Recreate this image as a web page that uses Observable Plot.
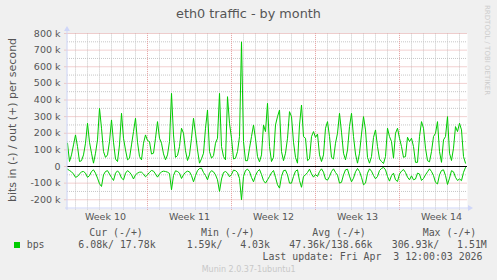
<!DOCTYPE html>
<html><head><meta charset="utf-8">
<script src="https://cdn.jsdelivr.net/npm/d3@7"></script>
<script src="https://cdn.jsdelivr.net/npm/@observablehq/plot@0.6"></script>
<style>
html,body{margin:0;padding:0;background:#f0f0f0;}
#wrap{position:relative;width:497px;height:280px;background:#f0f0f0;overflow:hidden;}
#wrap svg{position:absolute;left:0;top:0;}
</style></head><body><div id="wrap"></div>
<script>
// outbound bits/s (k), 4-hour samples from Mar 1 08:00 UTC
const outK = [140,30,70,130,190,120,30,35,70,140,
260,146,80,20,80,160,350,230,90,55,
70,150,280,146,45,30,130,320,170,100,
40,50,130,210,290,146,60,40,140,190,
156,150,75,80,170,270,170,140,76,40,
70,150,440,190,55,66,120,230,200,95,
36,70,170,290,200,100,20,46,80,230,
340,90,50,65,140,170,440,120,60,40,
420,260,170,45,50,90,180,750,150,35,
35,110,180,250,166,60,28,70,250,210,
380,120,30,56,250,300,340,90,35,80,
170,330,300,146,55,20,250,370,180,170,
35,46,180,210,175,195,70,30,70,230,
270,180,55,45,140,200,320,206,80,40,
100,240,320,180,75,20,80,195,300,220,
55,20,60,175,220,120,45,30,18,60,
230,180,150,50,200,230,170,120,55,60,
176,150,170,120,25,25,180,270,230,110,
35,28,90,180,200,270,90,25,160,180,
300,80,36,110,240,210,260,220,60,20];
// inbound bits/s (k), drawn below zero
const inK = [16,24,32,45,65,60,45,32,30,40,
65,55,30,20,40,70,104,120,50,30,
25,45,66,84,40,26,40,70,80,40,
25,34,50,75,50,40,34,34,45,62,
50,35,24,28,45,64,45,32,28,30,
34,42,140,54,26,30,40,72,50,35,
28,32,55,92,55,25,12,10,36,54,
80,40,25,32,50,80,150,75,36,30,
40,62,48,22,25,36,72,200,60,24,
16,30,66,92,55,30,18,48,85,100,
80,60,38,24,65,110,130,60,25,22,
50,100,100,60,28,20,85,125,60,50,
36,16,44,64,48,60,30,14,34,76,
82,60,30,14,36,52,100,95,50,20,
16,58,92,70,32,12,30,65,110,100,
40,14,28,54,74,60,24,12,5,20,
60,88,55,40,80,90,45,28,18,36,
64,80,56,80,75,40,45,84,72,50,
32,14,30,55,95,105,50,24,20,55,
108,70,25,32,65,84,75,85,35,6];
const startUTC = Date.UTC(2026,2,1,8);
const endUTC = Date.UTC(2026,3,3,16);
const stepMs = 4*3600*1000;
const weekLabels = ["Week 10","Week 11","Week 12","Week 13","Week 14"];
const weekMids = [Date.UTC(2026,2,4,12),Date.UTC(2026,2,11,12),Date.UTC(2026,2,18,12),Date.UTC(2026,2,25,12),Date.UTC(2026,3,1,12)];
const yTicks = [-200,-100,0,100,200,300,400,500,600,700,800];
const titleText = "eth0 traffic - by month";
const yLabel = "bits in (-) / out (+) per second";
const watermark = "RRDTOOL / TOBI OETIKER";
const seriesName = "bps";
const legendHeaders = ["Cur (-/+)","Min (-/+)","Avg (-/+)","Max (-/+)"];
const legendValues = ["6.08k/ 17.78k","1.59k/   4.03k","47.36k/138.66k","306.93k/   1.51M"];
const lastUpdate = "Last update: Fri Apr  3 12:00:03 2026";
const credit = "Munin 2.0.37-1ubuntu1";

const data = outK.map((v,i)=>({t:new Date(startUTC+i*stepMs), out:v, inn:-inK[i]}));
const days = d3.utcDay.range(new Date(Date.UTC(2026,2,2)), new Date(Date.UTC(2026,3,4)));
const minorDays = days.filter(d=>d.getUTCDay()!==0);
const sundays = days.filter(d=>d.getUTCDay()===0);
const minorY = d3.range(-150, 801, 50).filter(v=>v%100!==0);
const GRID="#c6c6c6", MGRID="#e4a0a0", TXT="#555";

const chart = Plot.plot({
  width:497, height:280,
  marginLeft:67, marginRight:30, marginTop:33, marginBottom:72,
  style:{background:"transparent", fontFamily:"DejaVu Sans", fontSize:"9.5px", color:TXT, overflow:"visible"},
  x:{type:"utc", domain:[new Date(startUTC), new Date(endUTC)], label:null},
  y:{domain:[-252.6, 800], label:null},
  marks:[
    Plot.frame({fill:"white", stroke:null}),
    Plot.ruleY(minorY,{stroke:GRID, strokeDasharray:"1,1"}),
    Plot.ruleX(minorDays,{stroke:GRID, strokeDasharray:"1,1", y1:-262, y2:800}),
    Plot.ruleY(yTicks,{stroke:MGRID, strokeDasharray:"1,1", x1:new Date(startUTC-5*3600e3), x2:new Date(endUTC)}),
    Plot.ruleX(sundays,{stroke:MGRID, strokeDasharray:"1,1", y1:-264, y2:800}),
    Plot.ruleY([0],{stroke:"black", strokeWidth:1.2}),
    Plot.line(data,{x:"t", y:"out", stroke:"#00cc00", strokeWidth:1}),
    Plot.line(data,{x:"t", y:"inn", stroke:"#00cc00", strokeWidth:1}),
    Plot.axisY({ticks:yTicks, tickFormat:d=>d===0?"0":d+" k", tickSize:0, tickPadding:7, fontSize:"9.5px", label:null}),
    Plot.axisX({ticks:weekMids.map(d=>new Date(d)), tickFormat:d=>weekLabels[weekMids.indexOf(+d)], tickSize:0, tickPadding:5, fontSize:"9.5px", label:null})
  ]
});
document.getElementById("wrap").appendChild(chart);

const sx = chart.scale("x"), sy = chart.scale("y");
const L = sx.apply(new Date(startUTC)), R = sx.apply(new Date(endUTC));
const B = sy.apply(-252.6), T = sy.apply(800);

const ov = d3.select("#wrap").append("svg").attr("width",497).attr("height",280)
  .style("font-family","DejaVu Sans");
// axes + arrows
ov.append("line").attr("x1",L).attr("x2",L).attr("y1",B+2).attr("y2",T-4).attr("stroke","#CFD6F8");
ov.append("line").attr("x1",L-2).attr("x2",R+4).attr("y1",B).attr("y2",B).attr("stroke","#CFD6F8");
ov.append("path").attr("d",`M${L-3},${T-2}L${L+3},${T-2}L${L},${T-7}Z`).attr("fill","#CFD6F8");
ov.append("path").attr("d",`M${R+1},${B-3}L${R+1},${B+3}L${R+6},${B}Z`).attr("fill","#CFD6F8");

ov.append("text").attr("x",248.5).attr("y",17.5).attr("text-anchor","middle")
  .attr("font-size","12.8px").attr("fill",TXT).text(titleText);
ov.append("text").attr("transform","translate(15.5,120) rotate(-90)").attr("text-anchor","middle")
  .attr("font-size","11px").attr("fill",TXT).text(yLabel);
ov.append("text").attr("transform","translate(485,5) rotate(90)").attr("text-anchor","start")
  .attr("font-size","7px").attr("fill","#cccccc").text(watermark);

const mono = ov.append("g").style("font-family","DejaVu Sans Mono").attr("font-size","9.9px")
  .attr("fill",TXT);
const mtext = (x,y,s,anchor) => mono.append("text").attr("x",x).attr("y",y)
  .attr("xml:space","preserve").style("white-space","pre")
  .attr("text-anchor",anchor||"start").text(s.replace(/ /g,"\u00a0"));
const hdrX = [89.3,201,312.3,422.7], valX = [78.3,186.7,289.3,391.7];
legendHeaders.forEach((h,i)=>mtext(hdrX[i],235.7,h));
legendValues.forEach((v,i)=>mtext(valX[i],248,v));
ov.append("rect").attr("x",14).attr("y",242).attr("width",6).attr("height",6).attr("fill","#00cc00");
mtext(26.7,248,seriesName);
mtext(482.5,260,lastUpdate,"end");
ov.append("text").attr("x",201.7).attr("y",271.5).attr("font-size","8px").attr("fill","#c8c8c8").text(credit);
</script></body></html>
